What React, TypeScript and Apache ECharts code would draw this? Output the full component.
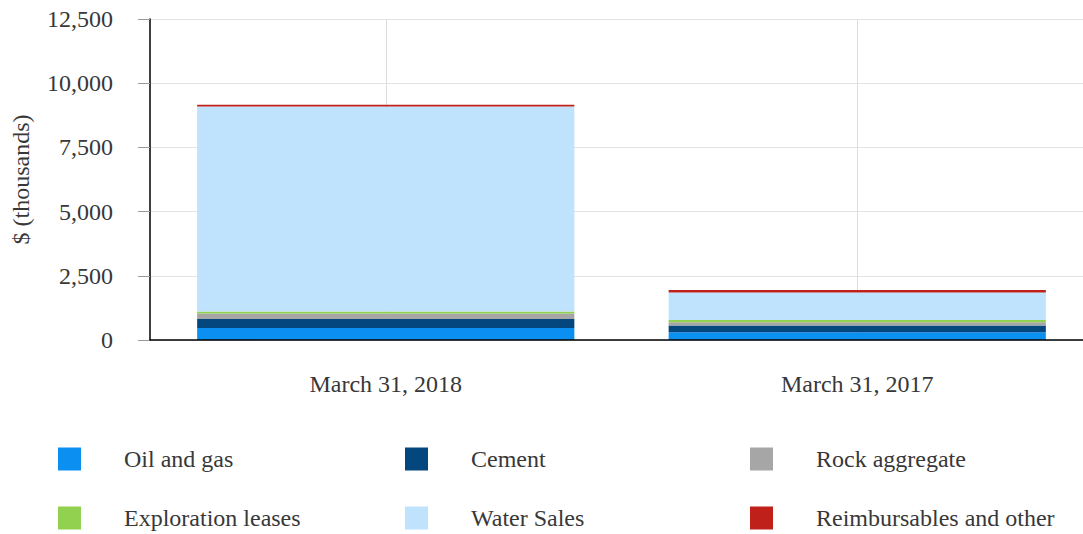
import React, { useEffect, useRef } from "react";
import * as echarts from "echarts";

const categories = ["March 31, 2018", "March 31, 2017"];
const seriesNames = [
  "Oil and gas",
  "Cement",
  "Rock aggregate",
  "Exploration leases",
  "Water Sales",
  "Reimbursables and other",
];
const oilAndGas = [465, 300];
const cement = [350, 260];
const rockAggregate = [220, 130];
const explorationLeases = [70, 90];
const waterSales = [7985, 1070];
const reimbursables = [70, 100];

const colors = ["#0b8ff0", "#03477e", "#a6a6a6", "#92d050", "#bfe3fc", "#c0201a"];
const seriesValues = [oilAndGas, cement, rockAggregate, explorationLeases, waterSales, reimbursables];

const FONT = "'Liberation Serif', 'Times New Roman', serif";
const TEXT = "#383838";

export default function App() {
  const ref = useRef<HTMLDivElement>(null);
  useEffect(() => {
    if (!ref.current) return;
    const chart = echarts.init(ref.current, null, { renderer: "svg" });
    const legendPos = [
      [58, 447],
      [405, 447],
      [750, 447],
      [58, 506],
      [405, 506],
      [750, 506],
    ];
    chart.setOption({
      animation: false,
      grid: { left: 150, top: 19, bottom: 194, right: 7, containLabel: false },
      legend: seriesNames.map((n, i) => ({
        data: [n],
        left: legendPos[i][0],
        top: legendPos[i][1],
        itemWidth: 23,
        itemHeight: 23,
        icon: "rect",
        padding: 0,
        textStyle: { fontFamily: FONT, fontSize: 24, color: TEXT, padding: [0, 0, 0, 38] },
      })),
      xAxis: [
        {
          type: "category",
          data: categories,
          axisLine: { lineStyle: { color: "#000", width: 1.5 } },
          axisTick: { alignWithLabel: true, length: 10, lineStyle: { color: "#999" } },
          axisLabel: { fontFamily: FONT, fontSize: 24, color: TEXT, margin: 32 },
          splitLine: { show: false },
          z: 5,
        },
        {
          type: "category",
          data: ["a", "b", "c", "d", "e"],
          boundaryGap: false,
          position: "bottom",
          axisLine: { show: false },
          axisTick: { show: false },
          axisLabel: { show: false },
          splitLine: {
            show: true,
            interval: (index: number) => index === 1 || index === 3,
            lineStyle: { color: "#dcdcdc" },
          },
        },
      ],
      yAxis: {
        type: "value",
        min: 0,
        max: 12500,
        interval: 2500,
        name: "$ (thousands)",
        nameLocation: "middle",
        nameGap: 117,
        nameTextStyle: { fontFamily: FONT, fontSize: 24, color: TEXT },
        axisLine: { show: true, lineStyle: { color: "#000", width: 1.5 } },
        axisTick: { show: true, length: 12, lineStyle: { color: "#999" } },
        axisLabel: {
          fontFamily: FONT,
          fontSize: 24,
          color: TEXT,
          margin: 37,
          formatter: (v: number) => v.toLocaleString("en-US"),
        },
        splitLine: { show: true, lineStyle: { color: "#e3e3e3" } },
      },
      series: seriesNames.map((n, i) => ({
        name: n,
        type: "bar",
        stack: "total",
        barWidth: "80%",
        xAxisIndex: 0,
        itemStyle: { color: colors[i] },
        data: seriesValues[i],
      })),
    });
    return () => chart.dispose();
  }, []);
  return (
    <div style={{ position: "absolute", left: 0, top: 0, width: 1083, height: 534, overflow: "hidden" }}>
      <div ref={ref} style={{ position: "absolute", left: 0, top: 0, width: 1100, height: 534 }} />
    </div>
  );
}
